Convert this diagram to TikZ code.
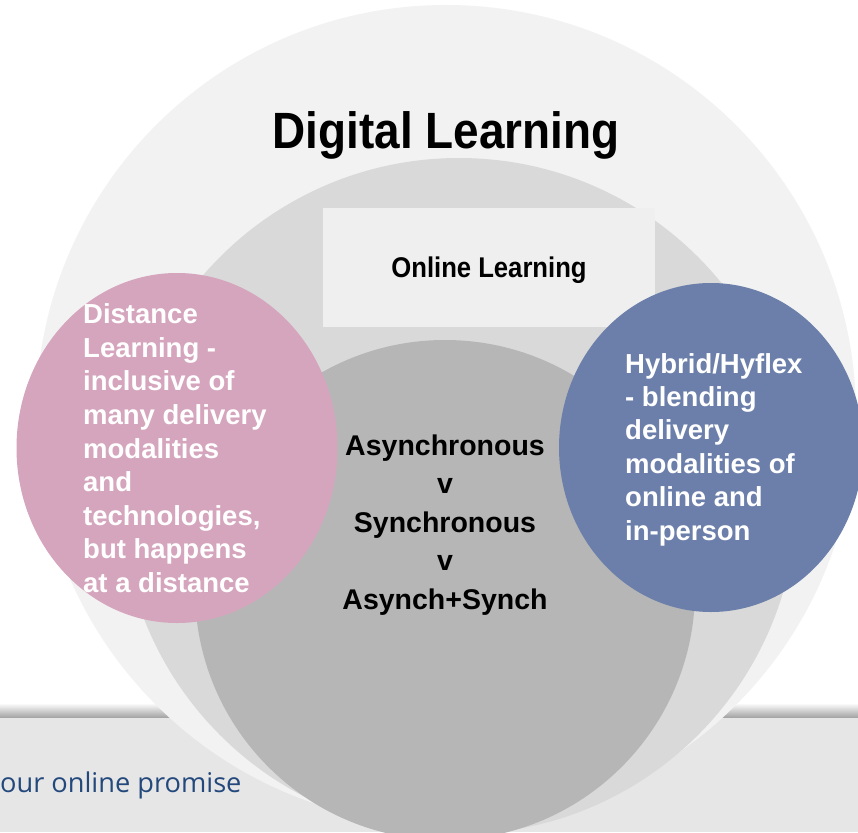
\documentclass[tikz,border=0pt]{standalone}
\usepackage{fontspec}
\setmainfont{Liberation Sans}
\newfontfamily\condfont{Liberation Sans}[FakeStretch=0.9]
\newfontfamily\promisefont{Open Sans}
\definecolor{outerc}{HTML}{F2F2F2}
\definecolor{middlec}{HTML}{D9D9D9}
\definecolor{innerc}{HTML}{B6B6B6}
\definecolor{rectc}{HTML}{EFEFEF}
\definecolor{pinkc}{HTML}{D5A5BD}
\definecolor{bluec}{HTML}{6B7FAA}
\definecolor{bandc}{HTML}{E6E6E6}
\definecolor{promisec}{HTML}{23487C}
\begin{document}
\begin{tikzpicture}[x=1pt,y=-1pt,
  bubbletext/.style={text=white, align=left, anchor=base west, inner sep=0pt,
    font=\fontsize{27.5}{33.6}\selectfont\bfseries},
  titletext/.style={text=black, inner sep=0pt, anchor=base}]
\useasboundingbox (0,0) rectangle (858,832);
\clip (0,0) rectangle (858,832);
\fill[white] (0,0) rectangle (858,832);
% footer band
\fill[bandc] (0,717) rectangle (858,832);
\shade[top color=white, bottom color=black!35] (0,703) rectangle (858,717);
% nested circles
\fill[outerc] (446,415) circle[radius=410];
\fill[middlec] (459,496) circle[radius=338];
\fill[rectc] (323,208) rectangle (655,327);
\fill[innerc] (445,590) circle[radius=250];
% side bubbles
\fill[pinkc] (177,448) ellipse[x radius=160.5, y radius=175];
\fill[bluec] (711,447.5) ellipse[x radius=152, y radius=164.5];
% texts (base anchor = baseline of the last line)
\node[titletext, font=\condfont\fontsize{51}{60}\selectfont\bfseries] (digital) at (446,148) {Digital Learning};
\node[titletext, font=\condfont\fontsize{28.5}{34}\selectfont\bfseries] (online) at (489,277) {Online Learning};
\node[titletext, align=center, font=\fontsize{28.5}{38.5}\selectfont\bfseries] (sync) at (445,609) {Asynchronous\\v\\Synchronous\\v\\Asynch+Synch};
\node[bubbletext] (distance) at (83,592.5) {Distance\\Learning -\\inclusive of\\many delivery\\modalities\\and\\technologies,\\but happens\\at a distance};
\node[bubbletext, font=\fontsize{27.5}{33.4}\selectfont\bfseries] (hybrid) at (625,540) {Hybrid/Hyflex\\- blending\\delivery\\modalities of\\online and\\in-person};
\node[anchor=base west, inner sep=0pt, text=promisec, font=\promisefont\fontsize{27.2}{30}\selectfont] (promise) at (0,792) {our online promise};
\end{tikzpicture}
\end{document}
